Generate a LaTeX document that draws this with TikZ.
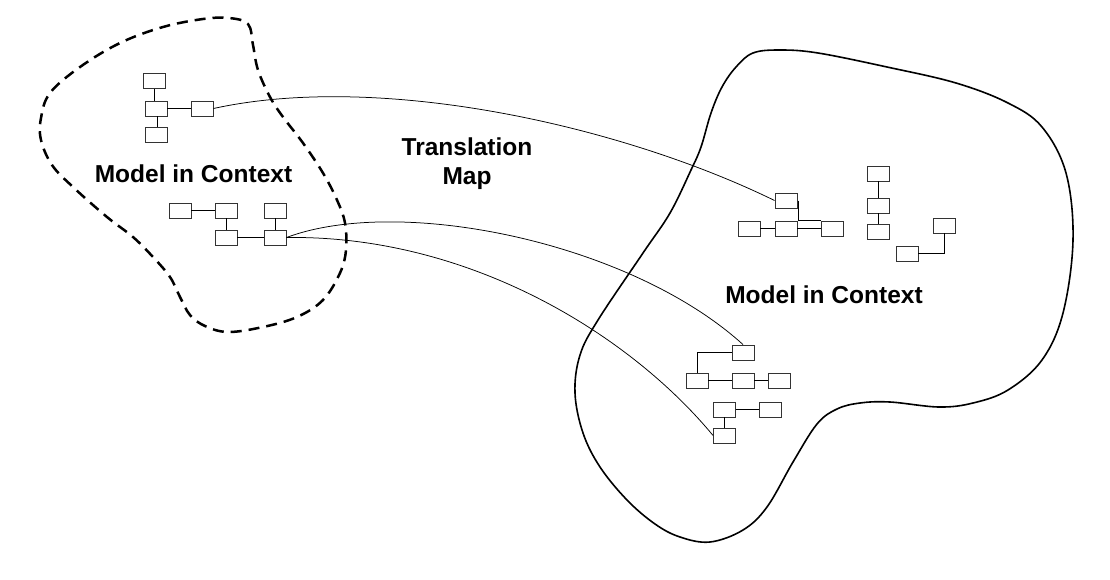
\documentclass[tikz,border=0pt]{standalone}
\usepackage{fontspec}
\setmainfont{Liberation Sans}
\begin{document}
\begin{tikzpicture}[x=1pt,y=-1pt,
  box/.style={draw=black!80,line width=0.9pt,minimum width=22pt,minimum height=15pt,inner sep=0pt,fill=white},
  link/.style={draw=black,line width=0.8pt},
  map/.style={draw=black,line width=0.75pt},
  region/.style={draw=black,line width=1.6pt},
  dashregion/.style={draw=black,line width=2.5pt,dash pattern=on 11pt off 7pt},
  caption/.style={font=\fontsize{24.5}{29}\selectfont\bfseries,anchor=base,align=center,inner sep=0pt}]
\useasboundingbox[fill=white] (0,0) rectangle (1110,579);

% source context (dashed boundary)
\draw[dashregion] plot[smooth cycle,tension=0.6] coordinates {
  (229,18) (248,24) (253,45) (258,70) (270,97) (283,117) (303,143) (323,173)
  (337,200) (345,223) (346,250) (340,273) (323,300) (297,317) (263,327)
  (228,332) (205,326) (190,315) (180,297) (170,277) (153,257) (133,237)
  (107,217) (73,187) (52,165) (41,140) (41,118) (50,93) (80,67) (120,43)
  (163,27) (203,19)};

% target context (solid boundary)
\draw[region] plot[smooth cycle,tension=0.6] coordinates {
  (780,50) (818,53) (887,67) (956,83) (1008,103) (1042,127) (1066,173)
  (1073,240) (1063,313) (1042,360) (1008,390) (973,403) (939,407) (890,402)
  (860,403) (837,409) (817,424) (793,462) (767,507) (743,530) (710,542)
  (680,537) (655,524) (627,500) (600,467) (583,433) (575,393) (580,355)
  (598,320) (643,253) (670,213) (691,170) (701,147) (711,113) (722,87)
  (736,67) (753,53)};

% captions
\node[caption] (lcap) at (193.5,182) {Model in Context};
\node[caption] (tmap) at (467,184.5) {Translation\\Map};
\node[caption] (rcap) at (824,303) {Model in Context};

% left model, upper fragment
\node[box] (a) at (154.5,81) {};
\node[box] (b) at (156,108.5) {};
\node[box] (c) at (202,108.5) {};
\node[box] (d) at (156,134.5) {};
\draw[link] (a.south) -- (a.south |- b.north);
\draw[link] ([xshift=1pt]b.south) -- ([xshift=1pt]b.south |- d.north);
\draw[link] (b.east) -- (c.west);

% left model, lower fragment
\node[box] (e) at (180,210.5) {};
\node[box] (f) at (226,210.5) {};
\node[box] (g) at (275,210.5) {};
\node[box] (h) at (226,237.5) {};
\node[box] (i) at (275,237.5) {};
\draw[link] (e.east) -- (f.west);
\draw[link] (f.south) -- (h.north);
\draw[link] (h.east) -- (i.west);
\draw[link] (g.south) -- (i.north);

% right model, upper fragments
\node[box] (j) at (786,200.5) {};
\node[box] (k) at (749,228.5) {};
\node[box] (l) at (786,228.5) {};
\node[box] (m) at (832,228.5) {};
\draw[link] (k.east) -- (l.west);
\draw[link] (l.east) -- (m.west);
\draw[link] ([xshift=1pt]j.east) |- (m.north west);

\node[box] (n) at (878,173.5) {};
\node[box] (o) at (878,205.5) {};
\node[box] (p) at (878,232) {};
\draw[link] (n.south) -- (o.north);
\draw[link] (o.south) -- (p.north);

\node[box] (q) at (944,225.5) {};
\node[box] (r) at (907,253.5) {};
\draw[link] (r.east) -| (q.south);

% right model, lower fragments
\node[box] (s) at (743,352.5) {};
\node[box] (t) at (697,380.5) {};
\node[box] (u) at (743,380.5) {};
\node[box] (v) at (779.5,380.5) {};
\draw[link] (s.west) -| (t.north);
\draw[link] (t.east) -- (u.west);
\draw[link] (u.east) -- (v.west);

\node[box] (w) at (724.5,409.5) {};
\node[box] (x) at (770.5,409.5) {};
\node[box] (y) at (724.5,435.5) {};
\draw[link] (w.east) -- (x.west);
\draw[link] (w.south) -- (y.north);

% translation map
\draw[map] (c.east) .. controls (380,72) and (620,125) .. (j.west);
\draw[map] (i.east) .. controls (400,195) and (630,242) .. (s.north);
\draw[map] (i.east) .. controls (470,235) and (630,335) .. (y.west);
\end{tikzpicture}
\end{document}
